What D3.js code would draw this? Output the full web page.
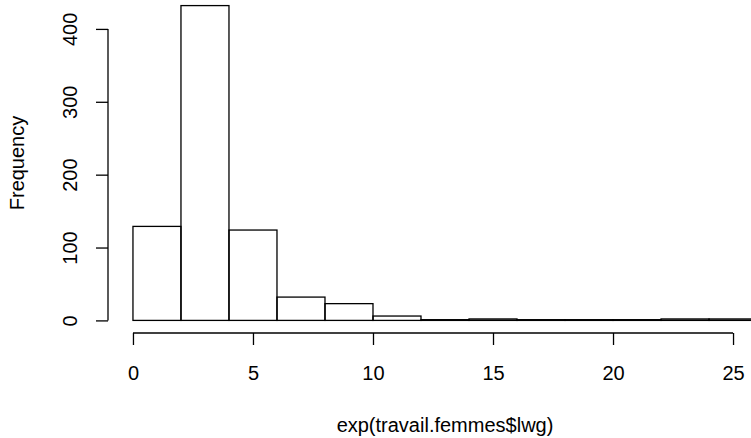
<!DOCTYPE html>
<html>
<head>
<meta charset="utf-8">
<script src="https://cdn.jsdelivr.net/npm/d3@7"></script>
<style>
  body { margin: 0; background: #fff; }
  svg { display: block; }
  text { font-family: "Liberation Sans", Arial, sans-serif; fill: #000; }
</style>
</head>
<body>
<div id="chart"></div>
<script>
// histogram of exp(travail.femmes$lwg), bins of width 2
const breaks = [0, 2, 4, 6, 8, 10, 12, 14, 16, 18, 20, 22, 24, 26];
const counts = [129, 432, 124, 32, 23, 6, 1, 2, 1, 1, 1, 2, 2];
const xTicks = [0, 5, 10, 15, 20, 25];
const yTicks = [0, 100, 200, 300, 400];
const xLabel = "exp(travail.femmes$lwg)";
const yLabel = "Frequency";

const width = 751, height = 438;
// plot region as R lays it out (runs off the right edge of the picture)
const plot = {left: 108, right: 782, top: -7, bottom: 333};
const fontSize = 20;
const tickLen = 12;

const bins = counts.map((c, i) => ({x0: breaks[i], x1: breaks[i + 1], count: c}));

// R pads the range by 4% on each side
const xPad = (breaks[breaks.length - 1] - breaks[0]) * 0.04;
const xScale = d3.scaleLinear()
    .domain([breaks[0] - xPad, breaks[breaks.length - 1] + xPad])
    .range([plot.left, plot.right]);
const yMax = d3.max(counts);
const yScale = d3.scaleLinear()
    .domain([-yMax * 0.04, yMax * 1.04])
    .range([plot.bottom, plot.top]);

const svg = d3.select("#chart").append("svg")
    .attr("width", width)
    .attr("height", height);

// bars
svg.append("g")
    .selectAll(".bar")
    .data(bins)
    .join("rect")
    .attr("class", "bar")
    .attr("x", d => xScale(d.x0))
    .attr("y", d => yScale(d.count))
    .attr("width", d => xScale(d.x1) - xScale(d.x0))
    .attr("height", d => yScale(0) - yScale(d.count))
    .attr("fill", "none")
    .attr("stroke", "#000")
    .attr("stroke-width", 1.3);

// x axis, drawn below the plot region like axis(1)
const xAxisG = svg.append("g")
    .attr("class", "xAxisG")
    .attr("transform", "translate(0," + plot.bottom + ")")
    .call(d3.axisBottom(xScale).tickValues(xTicks).tickSize(tickLen).tickPadding(0).tickSizeOuter(0));
xAxisG.select(".domain")
    .attr("d", "M" + xScale(xTicks[0]) + ",0H" + xScale(xTicks[xTicks.length - 1]));
xAxisG.selectAll("text")
    .attr("y", 0)
    .attr("dy", 47)
    .style("font-size", fontSize + "px")
    .style("font-family", "Liberation Sans, Arial, sans-serif");

// y axis with labels parallel to the axis
const yAxisG = svg.append("g")
    .attr("class", "yAxisG")
    .attr("transform", "translate(" + plot.left + ",0)")
    .call(d3.axisLeft(yScale).tickValues(yTicks).tickSize(tickLen).tickSizeOuter(0));
yAxisG.select(".domain")
    .attr("d", "M0," + yScale(yTicks[0]) + "V" + yScale(yTicks[yTicks.length - 1]));
yAxisG.selectAll("text")
    .attr("x", 0)
    .attr("dy", null)
    .attr("text-anchor", "middle")
    .attr("transform", "translate(-31,0) rotate(-90)")
    .style("font-size", fontSize + "px")
    .style("font-family", "Liberation Sans, Arial, sans-serif");
svg.selectAll(".domain, .tick line")
    .attr("stroke", "#000")
    .attr("stroke-width", 1.3);

// axis titles
svg.append("text")
    .attr("x", (plot.left + plot.right) / 2)
    .attr("y", 432)
    .attr("text-anchor", "middle")
    .style("font-size", fontSize + "px")
    .text(xLabel);

svg.append("text")
    .attr("transform", "translate(24," + (plot.top + plot.bottom) / 2 + ") rotate(-90)")
    .attr("text-anchor", "middle")
    .style("font-size", fontSize + "px")
    .text(yLabel);
</script>
</body>
</html>
